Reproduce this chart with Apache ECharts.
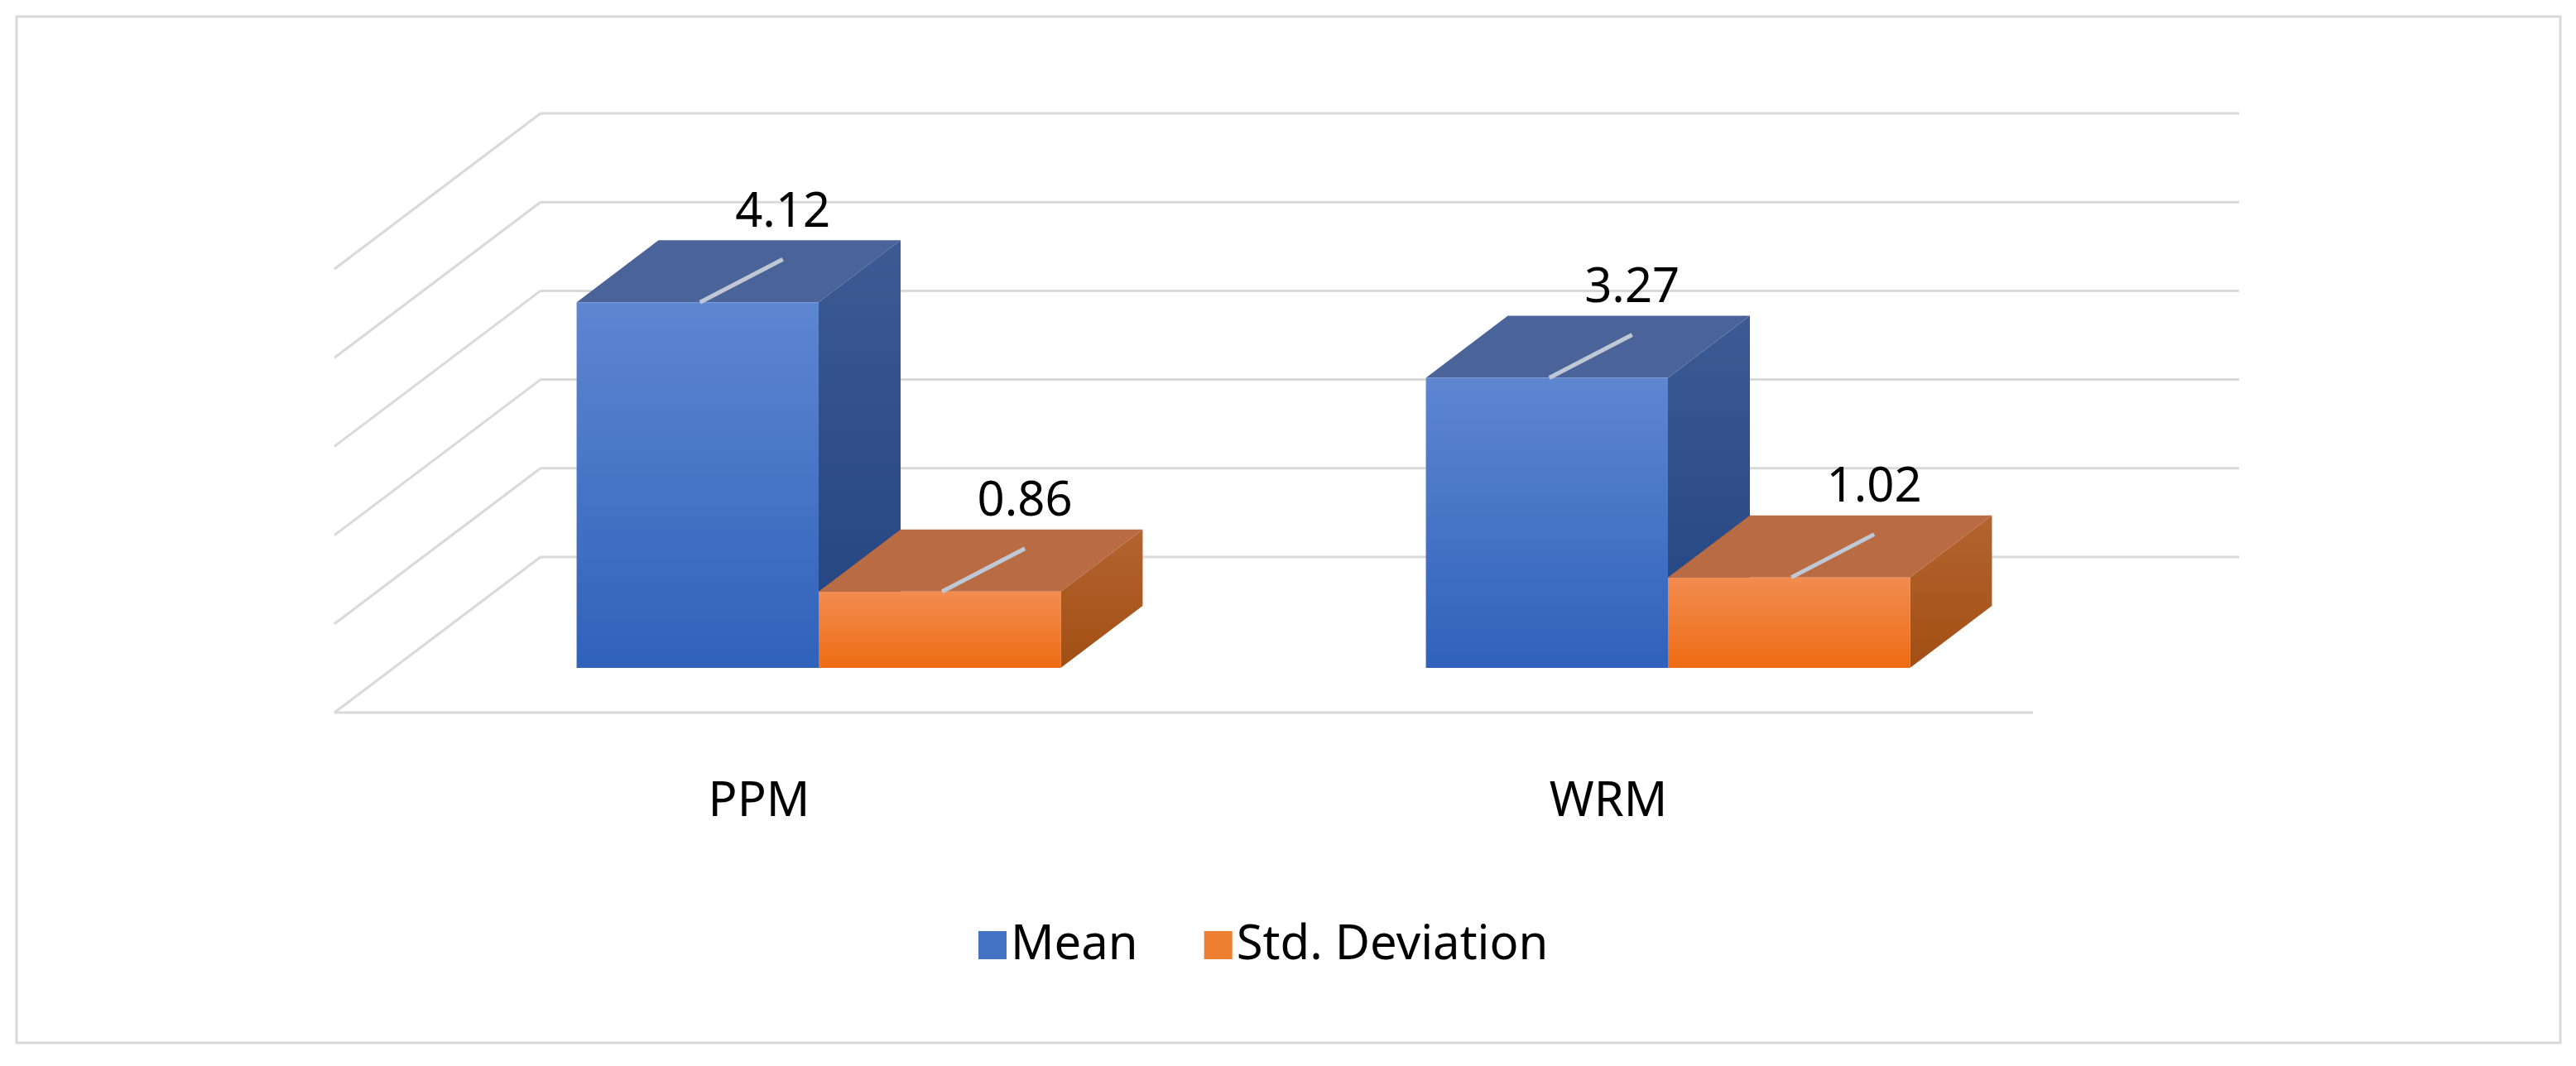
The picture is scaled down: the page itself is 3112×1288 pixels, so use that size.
<!DOCTYPE html>
<html>
<head>
<meta charset="utf-8">
<script src="https://cdn.jsdelivr.net/npm/echarts@6/dist/echarts.min.js"></script>
<style>
  html, body { margin: 0; padding: 0; background: #fff; }
  #chart { width: 3112px; height: 1288px; }
</style>
</head>
<body>
<div id="chart"></div>
<script>
// data
const categories = ['PPM', 'WRM'];
const meanValues = [4.12, 3.27];
const stdValues = [0.86, 1.02];
const yTicks = [0, 1, 2, 3, 4, 5];

// 3d look (pixels)
const BAR_W = 0.285;
const DEPTH = [99, -75];      // bar depth
const BACK = [177, -134];     // bar front plane -> back wall
const FLOOR = [-72, 54];      // bar front plane -> floor front edge
const FONT = 'Noto Sans, Liberation Sans, sans-serif';

const myChart = echarts.init(document.getElementById('chart'));

function grad(a, b) {
  return new echarts.graphic.LinearGradient(0, 0, 0, 1, [
    { offset: 0, color: a }, { offset: 1, color: b }
  ]);
}

function barRender(offset, pal) {
  return function (params, api) {
    const c = api.value(0), v = api.value(1);
    const pTop = api.coord([c + offset, v]);
    const pBot = api.coord([c + offset + BAR_W, 0]);
    const x1 = pTop[0], x2 = pBot[0], yT = pTop[1], yB = pBot[1];
    const dx = DEPTH[0], dy = DEPTH[1];
    const lx = x1 + (x2 - x1) * 0.51;
    const ex = lx + 100, ey = yT - 52;
    const children = [
      { type: 'polygon', shape: { points: [[x2, yT], [x2 + dx, yT + dy], [x2 + dx, yB + dy], [x2, yB]] },
        style: { fill: grad(pal.side[0], pal.side[1]) } },
      { type: 'polygon', shape: { points: [[x1, yT], [x1 + dx, yT + dy], [x2 + dx, yT + dy], [x2, yT]] },
        style: { fill: pal.top } },
      { type: 'rect', shape: { x: x1, y: yT, width: x2 - x1, height: yB - yT },
        style: { fill: grad(pal.front[0], pal.front[1]) } },
      { type: 'line', shape: { x1: lx, y1: yT, x2: ex, y2: ey },
        style: { stroke: '#BFC9D6', lineWidth: 5 } },
      { type: 'text', x: ex, y: ey - 56,
        style: { text: v.toFixed(2), fill: '#000', font: '58px ' + FONT, align: 'center', verticalAlign: 'middle' } }
    ];
    return { type: 'group', children: children };
  };
}

myChart.setOption({
  animation: false,
  grid: { left: 476, right: 584, top: 271, bottom: 481 },
  xAxis: { type: 'value', min: -0.5, max: 1.5, show: false },
  yAxis: { type: 'value', min: 0, max: 5, interval: 1, show: false },
  legend: {
    left: 1177, top: 1108,
    itemWidth: 34, itemHeight: 34, itemGap: 80,
    icon: 'rect',
    textStyle: { fontSize: 58, color: '#000', fontFamily: FONT },
    data: ['Mean', 'Std. Deviation']
  },
  graphic: [{
    type: 'rect', shape: { x: 20, y: 20, width: 3073, height: 1240 },
    style: { fill: 'none', stroke: '#D9D9D9', lineWidth: 3 }, silent: true
  }],
  series: [
    {
      type: 'custom', name: 'walls', silent: true,
      data: yTicks.map(t => [t]),
      renderItem: function (params, api) {
        const v = api.value(0);
        const a = api.coord([-0.5, v]), b = api.coord([1.5, v]);
        const bl = [a[0] + BACK[0], a[1] + BACK[1]];
        const br = [b[0] + BACK[0], b[1] + BACK[1]];
        const fl = [a[0] + FLOOR[0], a[1] + FLOOR[1] + (v === 0 ? 0 : 0)];
        const st = { stroke: '#D9D9D9', lineWidth: 3 };
        const ch = [
          { type: 'line', shape: { x1: bl[0], y1: bl[1], x2: br[0], y2: br[1] }, style: st },
          { type: 'line', shape: { x1: bl[0], y1: bl[1], x2: fl[0], y2: fl[1] }, style: st }
        ];
        if (v === 0) {
          const fr = [b[0] + FLOOR[0], b[1] + FLOOR[1]];
          ch.push({ type: 'line', shape: { x1: fl[0], y1: fl[1], x2: fr[0], y2: fr[1] }, style: st });
        }
        return { type: 'group', children: ch };
      }
    },
    {
      type: 'custom', name: 'cats', silent: true,
      data: categories.map((c, i) => [i]),
      renderItem: function (params, api) {
        const p = api.coord([api.value(0), 0]);
        return { type: 'text', x: p[0] + FLOOR[0], y: p[1] + 162,
          style: { text: categories[params.dataIndex], fill: '#000', font: '58px ' + FONT, align: 'center', verticalAlign: 'middle' } };
      }
    },
    {
      type: 'custom', name: 'Mean',
      itemStyle: { color: '#4472C4' },
      data: meanValues.map((v, i) => [i, v]),
      renderItem: barRender(-BAR_W, { front: ['#5E86D1', '#2F62BA'], top: '#4A6399', side: ['#3C5A94', '#22437F'] })
    },
    {
      type: 'custom', name: 'Std. Deviation',
      itemStyle: { color: '#ED7D31' },
      data: stdValues.map((v, i) => [i, v]),
      renderItem: barRender(0, { front: ['#F28C50', '#EE6C14'], top: '#B96B43', side: ['#B3642F', '#A24F14'] })
    }
  ]
});
</script>
</body>
</html>
